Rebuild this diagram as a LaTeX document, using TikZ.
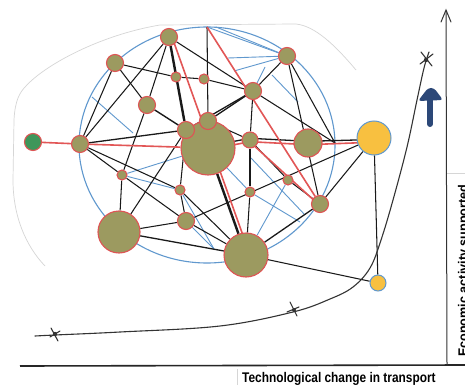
\documentclass[tikz,border=0pt]{standalone}
\usepackage{fontspec}
\newfontfamily\labfont{Liberation Sans}
\usetikzlibrary{calc}
\definecolor{nodefill}{RGB}{156,154,96}
\definecolor{nodered}{RGB}{222,84,84}
\definecolor{linered}{RGB}{226,86,86}
\definecolor{lineblue}{RGB}{96,152,206}
\definecolor{greenfill}{RGB}{62,150,90}
\definecolor{yellowfill}{RGB}{248,192,64}
\definecolor{paper}{RGB}{214,214,214}
\definecolor{navy}{RGB}{44,72,120}
\pgfdeclarelayer{bg}
\pgfdeclarelayer{edges}
\pgfsetlayers{bg,edges,main}
\begin{document}
\begin{tikzpicture}[x=1pt,y=-1pt,
  nd/.style={circle,draw=nodered,line width=1.1pt,fill=nodefill,inner sep=0pt,minimum size=#1},
  gnd/.style={circle,draw=nodered,line width=1.1pt,fill=greenfill,inner sep=0pt,minimum size=#1},
  ynd/.style={circle,draw=lineblue,line width=1pt,fill=yellowfill,inner sep=0pt,minimum size=#1},
  blk/.style={draw=black!90,line width=1.05pt},
  thk/.style={draw=black!90,line width=2.4pt},
  rd/.style={draw=linered,line width=1.6pt},
  bl/.style={draw=lineblue,line width=0.9pt},
  hand/.style={draw=black!80,line width=1pt,line cap=round},
  xmark/.style={draw=black!80,line width=1.1pt,line cap=round}]
\useasboundingbox (0,0) rectangle (465,385);
\clip (0,0) rectangle (465,385);
\begin{pgfonlayer}{bg}
\fill[white] (0,0) rectangle (465,385);
\end{pgfonlayer}

% paper outline and label boxes
\draw[paper,line width=0.7pt] (45,266) .. controls (25,245) and (13,215) .. (13,180) -- (14,120)
  .. controls (15,100) and (20,92) .. (26,86) .. controls (45,65) and (100,35) .. (160,25)
  -- (296,24) .. controls (315,26) and (335,45) .. (356,70);
\draw[paper,line width=0.7pt] (447,173) -- (465,173);
\draw[paper,line width=0.7pt] (237,369) -- (237,385);

% nodes
\node[nd=54pt] (nH) at (208,148) {};
\node[nd=17pt] (nF) at (186,130) {};
\node[nd=17pt] (nG) at (208,121) {};
\node[nd=17pt] (nA) at (169,37) {};
\node[nd=17pt] (nB) at (115,63) {};
\node[nd=10pt] (nC) at (176,77) {};
\node[nd=10pt] (nD) at (204,79) {};
\node[nd=17pt] (nE) at (147,105) {};
\node[nd=17pt] (nI) at (80,144) {};
\node[gnd=17pt] (nJ) at (33,142) {};
\node[nd=10pt] (nK) at (122,175) {};
\node[nd=10pt] (nL) at (180,190) {};
\node[nd=17pt] (nM) at (287,56) {};
\node[nd=17pt] (nN) at (253,91) {};
\node[nd=16pt] (nO) at (250,140) {};
\node[nd=28pt] (nP) at (308,143) {};
\node[ynd=34pt] (nQ) at (374,138) {};
\node[nd=10pt] (nR) at (288,180) {};
\node[nd=10pt] (nS) at (250,192) {};
\node[nd=17pt] (nT) at (320,204) {};
\node[nd=17pt] (nU) at (186,221) {};
\node[nd=42pt] (nV) at (119,232) {};
\node[nd=44pt] (nW) at (246,255) {};
\node[ynd=16pt] (nX) at (378,283) {};

\coordinate (z1) at (207,27);
\coordinate (z2) at (335,143);
\coordinate (zt2) at (216,27);
\coordinate (b3) at (228,58);
\coordinate (b4) at (234,71);
\coordinate (b5) at (265,67);
\coordinate (b6) at (272,75);
\coordinate (b7) at (298,102);
\coordinate (b8) at (92,97);
\coordinate (b9) at (133,133);
\coordinate (b10) at (251,158);
\coordinate (b11) at (305,215);
\coordinate (b12) at (300,222);
\coordinate (b13) at (214,249);

\begin{pgfonlayer}{edges}
  % blue frame ellipse
  \draw[bl,line width=1.1pt] (207,145) ellipse [x radius=128pt, y radius=118pt];
  % blue connectors
  \draw[bl] (z1) -- (nM);
  \draw[bl] (zt2) -- (nM);
  \draw[bl] (b3) -- (nM);
  \draw[bl] (b4) -- (nM);
  \draw[bl] (nN) -- (b5);
  \draw[bl] (b6) -- (b7);
  \draw[bl] (b8) -- (b9);
  \draw[bl] (nK) -- (nH);
  \draw[bl] (nK) -- (nL);
  \draw[bl] (nL) -- (b13);
  \draw[bl] (nU) -- (b13);
  \draw[bl] (nH) -- (nS);
  \draw[bl] (nS) -- (b12);
  \draw[bl] (b10) -- (b11);
  \draw[bl] (nR) -- (nW);
  % black connectors
  \draw[blk] (nA) -- (nI);
  \draw[blk] (nA) -- (nE);
  \draw[blk] (nE) -- (nK);
  \draw[blk] (nK) -- (nV);
  \draw[blk] (nA) -- (nN);
  \draw[blk] (nB) -- (nC);
  \draw[blk] (nC) -- (nD);
  \draw[blk] (nD) -- (nN);
  \draw[blk] (nB) -- (nE);
  \draw[blk,line width=1.4pt] (nE) -- (nF);
  \draw[blk] (nB) -- (nI);
  \draw[blk,line width=1.3pt] (nI) -- (nF);
  \draw[blk] (nI) -- (nL);
  \draw[blk] (nL) -- (nW);
  \draw[blk] (nI) -- (nK);
  \draw[blk] (nK) -- (nU);
  \draw[blk] (nU) -- (nW);
  \draw[blk] (z1) -- (nG);
  \draw[blk,line width=1.3pt] (nN) -- (nG);
  \draw[blk,line width=1.3pt] (nN) -- (nF);
  \draw[blk] (nM) -- (nN);
  \draw[blk] (nM) -- (nT);
  \draw[blk] (nM) -- (z2);
  \draw[blk] (nN) -- (z2);
  \draw[blk] (nN) -- (nO);
  \draw[blk] (nG) -- (nO);
  \draw[blk] (nQ) -- (nT);
  \draw[blk] (nQ) -- (nU);
  \draw[blk] (nQ) -- (nX);
  \draw[blk] (nW) -- (nX);
  \draw[blk,line width=1.3pt] (nT) -- (nW);
  \draw[blk,line width=1.3pt] (nV) -- (nW);
  \draw[blk] (nV) -- (nF);
  \draw[blk] (nV) -- (nU);
  \draw[blk] (nU) -- (nL);
  \draw[blk] (nL) -- (nF);
  \draw[blk] (nO) -- (nS);
  \draw[blk] (nS) -- (nW);
  \draw[blk] (nO) -- (nR);
  \draw[blk] (nR) -- (nT);
  % thick black
  \draw[thk] (nA) -- (nF);
  \draw[thk] (nH) -- (nW);
  % horizontal double line H-O-P-Q
  \draw[blk,line width=1.3pt] ([yshift=1.7pt]nH.center) -- ([yshift=1.7pt]nO.center)
     -- ([yshift=1.7pt]nP.center) -- ([yshift=-1.5pt]nQ.center);
  \draw[rd] ([yshift=-1.7pt]nH.center) -- ([yshift=-1.7pt]nO.center)
     -- ([yshift=-1.7pt]nP.center) -- ([yshift=-4.2pt]nQ.center);
  % red connectors
  \draw[rd] (nJ) -- (nI);
  \draw[rd] (nI) -- (nH);
  \draw[rd] (z1) -- (nT);
  \draw[rd] ([xshift=3pt]nA.center) -- ([xshift=4pt]nW.center);
  \draw[rd] ([yshift=-2pt]nO.center) -- ([xshift=-2pt]nT.center);
\end{pgfonlayer}

% axes
\draw[draw=black!85,line width=1.6pt] (20,366) -- (465,365);
\draw[hand] (447,365) -- (446,11);
\draw[hand] (441,22) -- (446,10) -- (451,22);

% growth curve
\draw[hand,line width=1.1pt] plot[smooth,tension=0.6] coordinates {(35,336) (55,335) (120,332) (220,326) (293,312) (330,299) (353,287) (370,268) (381,240) (393,200) (407,147) (417,100) (424,68) (429,52)};
% hand-drawn crosses
\draw[xmark] (51,328) -- (58,341);
\draw[xmark] (50,337) -- (60,331);
\fill[black!80] (55,334) circle (2.2pt);
\draw[xmark] (290,302) -- (297,316);
\draw[xmark] (287,312) -- (299,307);
\fill[black!80] (294,310) circle (2pt);
\draw[xmark] (421,52) -- (432,66);
\draw[xmark] (420,64) -- (433,54);
\fill[black!80] (426,60) circle (2.2pt);

% blue hand-drawn up arrow
\draw[navy,line width=6pt,line cap=round] (430,124) -- (430,97);
\fill[navy,rounded corners=3pt] (418,101) -- (428,88) -- (434,88) -- (443,100) -- cycle;

% axis labels
\node[anchor=base west,inner sep=0pt,xscale=0.85,font=\labfont\bfseries\fontsize{14}{16}\selectfont] (xlab) at (242,382) {Technological change in transport};
\node[anchor=base west,inner sep=0pt,rotate=90,xscale=0.9,font=\labfont\bfseries\fontsize{14}{16}\selectfont] (ylab) at (468,357) {Economic activity supported};
\end{tikzpicture}
\end{document}
